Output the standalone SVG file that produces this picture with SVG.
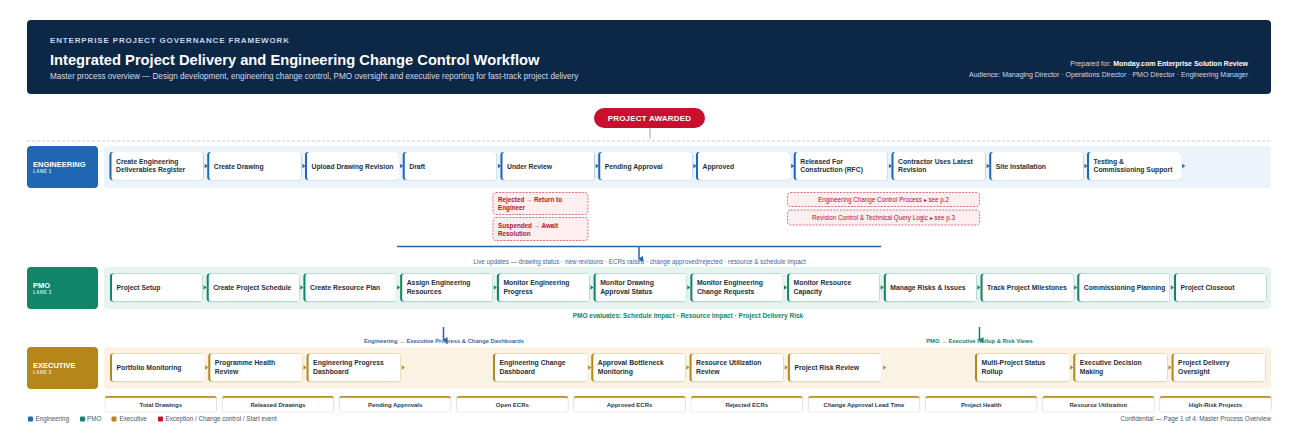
<svg xmlns="http://www.w3.org/2000/svg" width="1300" height="433" viewBox="0 0 1300 433">
<defs>
<style>
text{font-family:"Liberation Sans",Arial,sans-serif}
.nt{font-size:6.8px;font-weight:bold;fill:#243040}
.nw{fill:#ffffff}
.aE{fill:#1f67b1}
.aP{fill:#118567}
.aX{fill:#b5861a}
.ll{font-size:7.5px;font-weight:bold;fill:#ffffff}
.ls{font-size:4.6px;font-weight:bold;fill:#ffffff;fill-opacity:0.8;letter-spacing:0.4px}
.kp{font-size:6px;font-weight:bold;fill:#2d3748;text-anchor:middle}
.lg{font-size:6.3px;fill:#4b5563}
.ex{fill:#fdeef0;stroke:#d9485f;stroke-width:0.8;stroke-dasharray:2 1.3}
.ext{font-size:6.3px;font-weight:bold;fill:#b3122e}
.rft{font-size:6.3px;fill:#b3122e;text-anchor:middle}
</style>
<filter id="sh" x="-10%" y="-20%" width="120%" height="150%">
<feDropShadow dx="0" dy="0.5" stdDeviation="0.6" flood-color="#1e2a3b" flood-opacity="0.14"/>
</filter>
<marker id="mB" markerWidth="6" markerHeight="6" refX="3" refY="5" orient="auto" markerUnits="userSpaceOnUse" viewBox="0 0 6 6">
<path d="M0,1 L6,1 L3,6 Z" fill="#1f67b1"/>
</marker>
<marker id="mG" markerWidth="6" markerHeight="6" refX="3" refY="5" orient="auto" markerUnits="userSpaceOnUse" viewBox="0 0 6 6">
<path d="M0,1 L6,1 L3,6 Z" fill="#118567"/>
</marker>
</defs>

<rect width="1300" height="433" fill="#ffffff"/>

<!-- Header -->
<g id="header">
<rect x="27" y="20" width="1244" height="74" rx="4" fill="#0d2747"/>
<text x="50" y="43" font-size="8" font-weight="bold" fill="#c9d5e5" letter-spacing="0.85">ENTERPRISE PROJECT GOVERNANCE FRAMEWORK</text>
<text x="50" y="64.5" font-size="14.7" font-weight="bold" fill="#ffffff">Integrated Project Delivery and Engineering Change Control Workflow</text>
<text x="50" y="79" font-size="8.15" fill="#d3dbe7">Master process overview — Design development, engineering change control, PMO oversight and executive reporting for fast-track project delivery</text>
<text x="1248" y="65.5" font-size="7" fill="#d0d9e6" text-anchor="end">Prepared for: <tspan font-weight="bold" fill="#ffffff">Monday.com Enterprise Solution Review</tspan></text>
<text x="1248" y="77" font-size="7" fill="#d0d9e6" text-anchor="end">Audience: Managing Director · Operations Director · PMO Director · Engineering Manager</text>
</g>

<!-- Start event -->
<g id="start">
<rect x="594" y="108" width="111" height="20" rx="10" fill="#c8102e"/>
<text x="649.5" y="121" font-size="8" font-weight="bold" fill="#ffffff" text-anchor="middle" letter-spacing="0.2">PROJECT AWARDED</text>
</g>
<line x1="27" y1="141" x2="1271" y2="141" stroke="#c4cbd4" stroke-width="1" stroke-dasharray="3 2"/>

<!-- Lanes -->
<g id="lane-eng">
<rect x="104" y="146" width="1167" height="42" rx="4" fill="#ebf3fb"/>
<rect x="27" y="146" width="71" height="42" rx="4" fill="#1f67b1"/>
<text class="ll" x="33" y="166.5">ENGINEERING</text>
<text class="ls" x="33" y="172.5">LANE 1</text>
</g>
<g id="lane-pmo">
<rect x="104" y="267" width="1167" height="42" rx="4" fill="#e6f3ee"/>
<rect x="27" y="267" width="71" height="42" rx="4" fill="#118567"/>
<text class="ll" x="33" y="288">PMO</text>
<text class="ls" x="33" y="294">LANE 2</text>
</g>
<g id="lane-exec">
<rect x="104" y="347" width="1167" height="42" rx="4" fill="#faf3e3"/>
<rect x="27" y="347" width="71" height="42" rx="4" fill="#b5861a"/>
<text class="ll" x="33" y="368">EXECUTIVE</text>
<text class="ls" x="33" y="374">LANE 3</text>
</g>

<!-- Engineering nodes -->
<g id="eng-1"><rect class="aE" x="109.5" y="152" width="94" height="28" rx="3" filter="url(#sh)"/><rect class="nw" x="111.5" y="152" width="92" height="28" rx="2.5"/><text class="nt" x="116" y="163.8">Create Engineering</text><text class="nt" x="116" y="172.3">Deliverables Register</text></g>
<g id="eng-2"><rect class="aE" x="207.25" y="152" width="94" height="28" rx="3" filter="url(#sh)"/><rect class="nw" x="209.25" y="152" width="92" height="28" rx="2.5"/><text class="nt" x="213.75" y="168.5">Create Drawing</text></g>
<g id="eng-3"><rect class="aE" x="305" y="152" width="94" height="28" rx="3" filter="url(#sh)"/><rect class="nw" x="307" y="152" width="92" height="28" rx="2.5"/><text class="nt" x="311.5" y="168.5">Upload Drawing Revision</text></g>
<g id="eng-4"><rect class="aE" x="402.75" y="152" width="94" height="28" rx="3" filter="url(#sh)"/><rect class="nw" x="404.75" y="152" width="92" height="28" rx="2.5"/><text class="nt" x="409.25" y="168.5">Draft</text></g>
<g id="eng-5"><rect class="aE" x="500.5" y="152" width="94" height="28" rx="3" filter="url(#sh)"/><rect class="nw" x="502.5" y="152" width="92" height="28" rx="2.5"/><text class="nt" x="507" y="168.5">Under Review</text></g>
<g id="eng-6"><rect class="aE" x="598.25" y="152" width="94" height="28" rx="3" filter="url(#sh)"/><rect class="nw" x="600.25" y="152" width="92" height="28" rx="2.5"/><text class="nt" x="604.75" y="168.5">Pending Approval</text></g>
<g id="eng-7"><rect class="aE" x="696" y="152" width="94" height="28" rx="3" filter="url(#sh)"/><rect class="nw" x="698" y="152" width="92" height="28" rx="2.5"/><text class="nt" x="702.5" y="168.5">Approved</text></g>
<g id="eng-8"><rect class="aE" x="793.75" y="152" width="94" height="28" rx="3" filter="url(#sh)"/><rect class="nw" x="795.75" y="152" width="92" height="28" rx="2.5"/><text class="nt" x="800.25" y="163.8">Released For</text><text class="nt" x="800.25" y="172.3">Construction (RFC)</text></g>
<g id="eng-9"><rect class="aE" x="891.5" y="152" width="94" height="28" rx="3" filter="url(#sh)"/><rect class="nw" x="893.5" y="152" width="92" height="28" rx="2.5"/><text class="nt" x="898" y="163.8">Contractor Uses Latest</text><text class="nt" x="898" y="172.3">Revision</text></g>
<g id="eng-10"><rect class="aE" x="989.25" y="152" width="94" height="28" rx="3" filter="url(#sh)"/><rect class="nw" x="991.25" y="152" width="92" height="28" rx="2.5"/><text class="nt" x="995.75" y="168.5">Site Installation</text></g>
<g id="eng-11"><rect class="aE" x="1087" y="152" width="94" height="28" rx="3" filter="url(#sh)"/><rect class="nw" x="1089" y="152" width="92" height="28" rx="2.5"/><text class="nt" x="1093.5" y="163.8">Testing &amp;</text><text class="nt" x="1093.5" y="172.3">Commissioning Support</text></g>

<!-- Exceptions -->
<g id="exc-rejected"><rect class="ex" x="493" y="192.5" width="95" height="22" rx="3"/><text class="ext" x="498" y="202">Rejected → Return to</text><text class="ext" x="498" y="209.5">Engineer</text></g>
<g id="exc-suspended"><rect class="ex" x="493" y="217.5" width="95" height="23" rx="3"/><text class="ext" x="498" y="227.8">Suspended → Await</text><text class="ext" x="498" y="235.5">Resolution</text></g>
<g id="ref-ecc"><rect class="ex" x="787.5" y="192.5" width="192" height="14" rx="3" fill="#fff7f8"/><text class="rft" x="883.5" y="201.8">Engineering Change Control Process ▸ see p.2</text></g>
<g id="ref-rev"><rect class="ex" x="787.5" y="210" width="192" height="15" rx="3" fill="#fff7f8"/><text class="rft" x="883.5" y="219.8">Revision Control &amp; Technical Query Logic ▸ see p.3</text></g>

<!-- PMO nodes -->
<g id="pmo-1"><rect class="aP" x="110" y="273.5" width="92.5" height="28" rx="3" filter="url(#sh)"/><rect class="nw" x="112" y="273.5" width="90.5" height="28" rx="2.5"/><text class="nt" x="116.5" y="289.9">Project Setup</text></g>
<g id="pmo-2"><rect class="aP" x="206.73" y="273.5" width="92.5" height="28" rx="3" filter="url(#sh)"/><rect class="nw" x="208.73" y="273.5" width="90.5" height="28" rx="2.5"/><text class="nt" x="213.2" y="289.9">Create Project Schedule</text></g>
<g id="pmo-3"><rect class="aP" x="303.46" y="273.5" width="92.5" height="28" rx="3" filter="url(#sh)"/><rect class="nw" x="305.46" y="273.5" width="90.5" height="28" rx="2.5"/><text class="nt" x="310" y="289.9">Create Resource Plan</text></g>
<g id="pmo-4"><rect class="aP" x="400.19" y="273.5" width="92.5" height="28" rx="3" filter="url(#sh)"/><rect class="nw" x="402.19" y="273.5" width="90.5" height="28" rx="2.5"/><text class="nt" x="406.7" y="285.3">Assign Engineering</text><text class="nt" x="406.7" y="293.8">Resources</text></g>
<g id="pmo-5"><rect class="aP" x="496.92" y="273.5" width="92.5" height="28" rx="3" filter="url(#sh)"/><rect class="nw" x="498.92" y="273.5" width="90.5" height="28" rx="2.5"/><text class="nt" x="503.4" y="285.3">Monitor Engineering</text><text class="nt" x="503.4" y="293.8">Progress</text></g>
<g id="pmo-6"><rect class="aP" x="593.65" y="273.5" width="92.5" height="28" rx="3" filter="url(#sh)"/><rect class="nw" x="595.65" y="273.5" width="90.5" height="28" rx="2.5"/><text class="nt" x="600.2" y="285.3">Monitor Drawing</text><text class="nt" x="600.2" y="293.8">Approval Status</text></g>
<g id="pmo-7"><rect class="aP" x="690.38" y="273.5" width="92.5" height="28" rx="3" filter="url(#sh)"/><rect class="nw" x="692.38" y="273.5" width="90.5" height="28" rx="2.5"/><text class="nt" x="696.9" y="285.3">Monitor Engineering</text><text class="nt" x="696.9" y="293.8">Change Requests</text></g>
<g id="pmo-8"><rect class="aP" x="787.11" y="273.5" width="92.5" height="28" rx="3" filter="url(#sh)"/><rect class="nw" x="789.11" y="273.5" width="90.5" height="28" rx="2.5"/><text class="nt" x="793.6" y="285.3">Monitor Resource</text><text class="nt" x="793.6" y="293.8">Capacity</text></g>
<g id="pmo-9"><rect class="aP" x="883.84" y="273.5" width="92.5" height="28" rx="3" filter="url(#sh)"/><rect class="nw" x="885.84" y="273.5" width="90.5" height="28" rx="2.5"/><text class="nt" x="890.3" y="289.9">Manage Risks &amp; Issues</text></g>
<g id="pmo-10"><rect class="aP" x="980.57" y="273.5" width="92.5" height="28" rx="3" filter="url(#sh)"/><rect class="nw" x="982.57" y="273.5" width="90.5" height="28" rx="2.5"/><text class="nt" x="987.1" y="289.9">Track Project Milestones</text></g>
<g id="pmo-11"><rect class="aP" x="1077.3" y="273.5" width="92.5" height="28" rx="3" filter="url(#sh)"/><rect class="nw" x="1079.3" y="273.5" width="90.5" height="28" rx="2.5"/><text class="nt" x="1083.8" y="289.9">Commissioning Planning</text></g>
<g id="pmo-12"><rect class="aP" x="1174.03" y="273.5" width="92.5" height="28" rx="3" filter="url(#sh)"/><rect class="nw" x="1176.03" y="273.5" width="90.5" height="28" rx="2.5"/><text class="nt" x="1180.5" y="289.9">Project Closeout</text></g>

<!-- Executive nodes -->
<g id="exec-1"><rect class="aX" x="110" y="353.5" width="94" height="28" rx="3" filter="url(#sh)"/><rect class="nw" x="112" y="353.5" width="92" height="28" rx="2.5"/><text class="nt" x="116.5" y="369.9">Portfolio Monitoring</text></g>
<g id="exec-2"><rect class="aX" x="208.3" y="353.5" width="94" height="28" rx="3" filter="url(#sh)"/><rect class="nw" x="210.3" y="353.5" width="92" height="28" rx="2.5"/><text class="nt" x="214.8" y="365.3">Programme Health</text><text class="nt" x="214.8" y="373.8">Review</text></g>
<g id="exec-3"><rect class="aX" x="306.6" y="353.5" width="94" height="28" rx="3" filter="url(#sh)"/><rect class="nw" x="308.6" y="353.5" width="92" height="28" rx="2.5"/><text class="nt" x="313.1" y="365.3">Engineering Progress</text><text class="nt" x="313.1" y="373.8">Dashboard</text></g>
<g id="exec-4"><rect class="aX" x="493" y="353.5" width="94" height="28" rx="3" filter="url(#sh)"/><rect class="nw" x="495" y="353.5" width="92" height="28" rx="2.5"/><text class="nt" x="499.5" y="365.3">Engineering Change</text><text class="nt" x="499.5" y="373.8">Dashboard</text></g>
<g id="exec-5"><rect class="aX" x="591.3" y="353.5" width="94" height="28" rx="3" filter="url(#sh)"/><rect class="nw" x="593.3" y="353.5" width="92" height="28" rx="2.5"/><text class="nt" x="597.8" y="365.3">Approval Bottleneck</text><text class="nt" x="597.8" y="373.8">Monitoring</text></g>
<g id="exec-6"><rect class="aX" x="689.6" y="353.5" width="94" height="28" rx="3" filter="url(#sh)"/><rect class="nw" x="691.6" y="353.5" width="92" height="28" rx="2.5"/><text class="nt" x="696.1" y="365.3">Resource Utilization</text><text class="nt" x="696.1" y="373.8">Review</text></g>
<g id="exec-7"><rect class="aX" x="787.9" y="353.5" width="94" height="28" rx="3" filter="url(#sh)"/><rect class="nw" x="789.9" y="353.5" width="92" height="28" rx="2.5"/><text class="nt" x="794.4" y="369.9">Project Risk Review</text></g>
<g id="exec-8"><rect class="aX" x="975" y="353.5" width="94" height="28" rx="3" filter="url(#sh)"/><rect class="nw" x="977" y="353.5" width="92" height="28" rx="2.5"/><text class="nt" x="981.5" y="365.3">Multi-Project Status</text><text class="nt" x="981.5" y="373.8">Rollup</text></g>
<g id="exec-9"><rect class="aX" x="1073.3" y="353.5" width="94" height="28" rx="3" filter="url(#sh)"/><rect class="nw" x="1075.3" y="353.5" width="92" height="28" rx="2.5"/><text class="nt" x="1079.8" y="365.3">Executive Decision</text><text class="nt" x="1079.8" y="373.8">Making</text></g>
<g id="exec-10"><rect class="aX" x="1171.6" y="353.5" width="94" height="28" rx="3" filter="url(#sh)"/><rect class="nw" x="1173.6" y="353.5" width="92" height="28" rx="2.5"/><text class="nt" x="1178.1" y="365.3">Project Delivery</text><text class="nt" x="1178.1" y="373.8">Oversight</text></g>

<!-- Connectors -->
<g id="connectors">
<line x1="650" y1="128" x2="650" y2="139" stroke="#9aa5b4" stroke-width="1"/>
<g fill="#1f67b1">
<path d="M204.7,163.8 L207.7,166 L204.7,168.2 Z"/>
<path d="M302.45,163.8 L305.45,166 L302.45,168.2 Z"/>
<path d="M400.2,163.8 L403.2,166 L400.2,168.2 Z"/>
<path d="M497.95,163.8 L500.95,166 L497.95,168.2 Z"/>
<path d="M595.7,163.8 L598.7,166 L595.7,168.2 Z"/>
<path d="M693.45,163.8 L696.45,166 L693.45,168.2 Z"/>
<path d="M791.2,163.8 L794.2,166 L791.2,168.2 Z"/>
<path d="M888.95,163.8 L891.95,166 L888.95,168.2 Z"/>
<path d="M986.7,163.8 L989.7,166 L986.7,168.2 Z"/>
<path d="M1084.45,163.8 L1087.45,166 L1084.45,168.2 Z"/>
<path d="M1182.2,163.8 L1185.2,166 L1182.2,168.2 Z"/>
</g>
<g fill="#118567">
<path d="M203.6,285.3 L206.6,287.5 L203.6,289.7 Z"/>
<path d="M300.33,285.3 L303.33,287.5 L300.33,289.7 Z"/>
<path d="M397.06,285.3 L400.06,287.5 L397.06,289.7 Z"/>
<path d="M493.79,285.3 L496.79,287.5 L493.79,289.7 Z"/>
<path d="M590.52,285.3 L593.52,287.5 L590.52,289.7 Z"/>
<path d="M687.25,285.3 L690.25,287.5 L687.25,289.7 Z"/>
<path d="M783.98,285.3 L786.98,287.5 L783.98,289.7 Z"/>
<path d="M880.71,285.3 L883.71,287.5 L880.71,289.7 Z"/>
<path d="M977.44,285.3 L980.44,287.5 L977.44,289.7 Z"/>
<path d="M1074.17,285.3 L1077.17,287.5 L1074.17,289.7 Z"/>
<path d="M1170.9,285.3 L1173.9,287.5 L1170.9,289.7 Z"/>
</g>
<g fill="#b5861a">
<path d="M205.2,365.3 L208.2,367.5 L205.2,369.7 Z"/>
<path d="M303.5,365.3 L306.5,367.5 L303.5,369.7 Z"/>
<path d="M401.8,365.3 L404.8,367.5 L401.8,369.7 Z"/>
<path d="M588.2,365.3 L591.2,367.5 L588.2,369.7 Z"/>
<path d="M686.5,365.3 L689.5,367.5 L686.5,369.7 Z"/>
<path d="M784.8,365.3 L787.8,367.5 L784.8,369.7 Z"/>
<path d="M883.1,365.3 L886.1,367.5 L883.1,369.7 Z"/>
<path d="M1070.2,365.3 L1073.2,367.5 L1070.2,369.7 Z"/>
<path d="M1168.5,365.3 L1171.5,367.5 L1168.5,369.7 Z"/>
</g>
<line x1="397" y1="246.5" x2="881" y2="246.5" stroke="#1f67b1" stroke-width="1.5"/>
<line x1="639" y1="246.5" x2="639" y2="259" stroke="#1f67b1" stroke-width="1.5" marker-end="url(#mB)"/>
<text x="639.5" y="263.5" font-size="6.3" fill="#3a67a8" text-anchor="middle">Live updates — drawing status · new revisions · ECRs raised · change approved/rejected · resource &amp; schedule impact</text>
<text x="688" y="318" font-size="6.5" font-weight="bold" fill="#118567" text-anchor="middle">PMO evaluates: Schedule Impact · Resource Impact · Project Delivery Risk</text>
<line x1="443.5" y1="327" x2="443.5" y2="340" stroke="#1f67b1" stroke-width="1.5" marker-end="url(#mB)"/>
<text x="444" y="343" font-size="5.8" font-weight="bold" fill="#3a67a8" text-anchor="middle">Engineering → Executive Progress &amp; Change Dashboards</text>
<line x1="979.5" y1="327" x2="979.5" y2="340" stroke="#118567" stroke-width="1.5" marker-end="url(#mG)"/>
<text x="979.5" y="343" font-size="5.8" font-weight="bold" fill="#118567" text-anchor="middle">PMO → Executive Rollup &amp; Risk Views</text>
</g>

<!-- KPI bar -->
<g id="kpis">
<g id="kpi-1"><rect x="105" y="396" width="111.5" height="16" rx="2" fill="#c08a1e"/><rect x="105" y="398" width="111.5" height="14" rx="1.5" fill="#ffffff" stroke="#dde2e8" stroke-width="0.6"/><text class="kp" x="160.75" y="406.8">Total Drawings</text></g>
<g id="kpi-2"><rect x="222.2" y="396" width="111.5" height="16" rx="2" fill="#c08a1e"/><rect x="222.2" y="398" width="111.5" height="14" rx="1.5" fill="#ffffff" stroke="#dde2e8" stroke-width="0.6"/><text class="kp" x="277.95" y="406.8">Released Drawings</text></g>
<g id="kpi-3"><rect x="339.4" y="396" width="111.5" height="16" rx="2" fill="#c08a1e"/><rect x="339.4" y="398" width="111.5" height="14" rx="1.5" fill="#ffffff" stroke="#dde2e8" stroke-width="0.6"/><text class="kp" x="395.15" y="406.8">Pending Approvals</text></g>
<g id="kpi-4"><rect x="456.6" y="396" width="111.5" height="16" rx="2" fill="#c08a1e"/><rect x="456.6" y="398" width="111.5" height="14" rx="1.5" fill="#ffffff" stroke="#dde2e8" stroke-width="0.6"/><text class="kp" x="512.35" y="406.8">Open ECRs</text></g>
<g id="kpi-5"><rect x="573.8" y="396" width="111.5" height="16" rx="2" fill="#c08a1e"/><rect x="573.8" y="398" width="111.5" height="14" rx="1.5" fill="#ffffff" stroke="#dde2e8" stroke-width="0.6"/><text class="kp" x="629.55" y="406.8">Approved ECRs</text></g>
<g id="kpi-6"><rect x="691" y="396" width="111.5" height="16" rx="2" fill="#c08a1e"/><rect x="691" y="398" width="111.5" height="14" rx="1.5" fill="#ffffff" stroke="#dde2e8" stroke-width="0.6"/><text class="kp" x="746.75" y="406.8">Rejected ECRs</text></g>
<g id="kpi-7"><rect x="808.2" y="396" width="111.5" height="16" rx="2" fill="#c08a1e"/><rect x="808.2" y="398" width="111.5" height="14" rx="1.5" fill="#ffffff" stroke="#dde2e8" stroke-width="0.6"/><text class="kp" x="863.95" y="406.8">Change Approval Lead Time</text></g>
<g id="kpi-8"><rect x="925.4" y="396" width="111.5" height="16" rx="2" fill="#c08a1e"/><rect x="925.4" y="398" width="111.5" height="14" rx="1.5" fill="#ffffff" stroke="#dde2e8" stroke-width="0.6"/><text class="kp" x="981.15" y="406.8">Project Health</text></g>
<g id="kpi-9"><rect x="1042.6" y="396" width="111.5" height="16" rx="2" fill="#c08a1e"/><rect x="1042.6" y="398" width="111.5" height="14" rx="1.5" fill="#ffffff" stroke="#dde2e8" stroke-width="0.6"/><text class="kp" x="1098.35" y="406.8">Resource Utilization</text></g>
<g id="kpi-10"><rect x="1159.8" y="396" width="111.5" height="16" rx="2" fill="#c08a1e"/><rect x="1159.8" y="398" width="111.5" height="14" rx="1.5" fill="#ffffff" stroke="#dde2e8" stroke-width="0.6"/><text class="kp" x="1215.55" y="406.8">High-Risk Projects</text></g>
</g>

<!-- Legend -->
<g id="legend">
<rect x="28" y="416.5" width="5" height="5" rx="1" fill="#1f67b1"/><text class="lg" x="35.5" y="421.3">Engineering</text>
<rect x="80" y="416.5" width="5" height="5" rx="1" fill="#118567"/><text class="lg" x="87" y="421.3">PMO</text>
<rect x="111.5" y="416.5" width="5" height="5" rx="1" fill="#b5861a"/><text class="lg" x="119.5" y="421.3">Executive</text>
<rect x="158" y="416.5" width="5" height="5" rx="1" fill="#c8102e"/><text class="lg" x="165.5" y="421.3">Exception / Change control / Start event</text>
<text class="lg" x="1271" y="421.3" text-anchor="end" fill="#6b7280">Confidential — Page 1 of 4: Master Process Overview</text>
</g>
</svg>
